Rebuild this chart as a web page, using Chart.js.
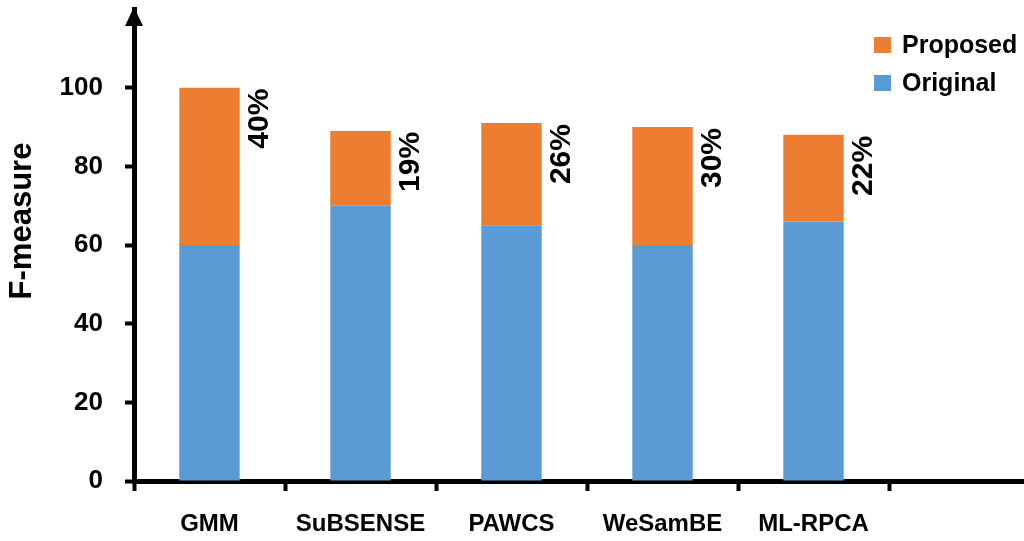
<!DOCTYPE html>
<html>
<head>
<meta charset="utf-8">
<script src="https://cdn.jsdelivr.net/npm/chart.js@4/dist/chart.umd.min.js"></script>
<style>
  html, body { margin: 0; padding: 0; background: #fff; overflow: hidden; }
  #wrap { width: 1024px; height: 541px; overflow: hidden; }
</style>
</head>
<body>
<!-- the horizontal axis runs past the right edge of the view, so the canvas is a bit wider -->
<div id="wrap"><canvas id="c" width="1040" height="541"></canvas></div>
<script>
// Categories (the trailing empty slot keeps room on the right of the axis)
const categories = ['GMM', 'SuBSENSE', 'PAWCS', 'WeSamBE', 'ML-RPCA', ''];
// F-measure of each method as published, and the gain added by the proposed step
const originalValues = [60, 70, 65, 60, 66];
const proposedValues = [40, 19, 26, 30, 22];
// Value axis ticks
const yTicks = [0, 20, 40, 60, 80, 100];
const yMax = 120;
const yTitle = 'F-measure';
// Gain labels written next to each bar
const gainLabels = proposedValues.map(v => v + '%');

const FONT = "'Liberation Sans', Arial, sans-serif";
Chart.defaults.font.family = FONT;
Chart.defaults.color = '#000';

// Rotated percentage labels beside the top segment of each bar
const gainLabelPlugin = {
  id: 'gainLabels',
  afterDatasetsDraw(chart) {
    const meta = chart.getDatasetMeta(1);
    const ctx = chart.ctx;
    ctx.save();
    ctx.fillStyle = '#000';
    ctx.font = 'bold 30px ' + FONT;
    meta.data.forEach((bar, i) => {
      if (gainLabels[i] === undefined) return;
      const cx = bar.x + bar.width / 2 + 20;
      ctx.save();
      ctx.translate(cx, bar.y + 1);
      ctx.rotate(-Math.PI / 2);
      ctx.textAlign = 'right';
      ctx.textBaseline = 'middle';
      ctx.fillText(gainLabels[i], 0, 0);
      ctx.restore();
    });
    ctx.restore();
  }
};

// Arrow head on top of the value axis, the axis title, and the legend
const decorPlugin = {
  id: 'decor',
  afterDraw(chart) {
    const ctx = chart.ctx;
    const area = chart.chartArea;
    const x = area.left;
    ctx.save();
    ctx.fillStyle = '#000';
    ctx.beginPath();
    ctx.moveTo(x, area.top - 2);
    ctx.lineTo(x + 9, area.top + 17);
    ctx.lineTo(x - 9, area.top + 17);
    ctx.closePath();
    ctx.fill();

    // value axis title, set a little above the middle of the axis
    ctx.save();
    ctx.font = 'bold 31px ' + FONT;
    ctx.textAlign = 'center';
    ctx.textBaseline = 'middle';
    ctx.translate(22, (area.top + area.bottom) / 2 - 24);
    ctx.rotate(-Math.PI / 2);
    ctx.fillText(yTitle, 0, 0);
    ctx.restore();

    // legend: top segment first
    const order = [1, 0];
    ctx.font = 'bold 25px ' + FONT;
    ctx.textAlign = 'left';
    ctx.textBaseline = 'middle';
    order.forEach((di, k) => {
      const ds = chart.data.datasets[di];
      const cy = 45 + k * 38;
      ctx.fillStyle = ds.backgroundColor;
      ctx.fillRect(874, cy - 8, 17, 16);
      ctx.fillStyle = '#000';
      ctx.fillText(ds.label, 902, cy + 1);
    });
    ctx.restore();
  }
};

new Chart(document.getElementById('c'), {
  type: 'bar',
  data: {
    labels: categories,
    datasets: [
      {
        label: 'Original',
        data: originalValues,
        backgroundColor: '#5B9BD5',
        borderWidth: 0,
        barPercentage: 0.4,
        categoryPercentage: 1
      },
      {
        label: 'Proposed',
        data: proposedValues,
        backgroundColor: '#ED7D31',
        borderWidth: 0,
        barPercentage: 0.4,
        categoryPercentage: 1
      }
    ]
  },
  options: {
    responsive: false,
    animation: false,
    devicePixelRatio: 1,
    layout: { padding: { left: 0, right: 0, top: 9, bottom: 0 } },
    plugins: {
      legend: { display: false },
      tooltip: { enabled: false }
    },
    scales: {
      x: {
        stacked: true,
        afterFit(scale) {
          scale.height = 60;
          scale.paddingLeft = 0;
          scale.paddingRight = 0;
        },
        grid: {
          display: true,
          drawOnChartArea: false,
          offset: true,
          tickLength: 10,
          tickWidth: 4,
          tickColor: '#000'
        },
        border: { display: true, color: '#000', width: 5 },
        ticks: {
          color: '#000',
          font: { size: 24, weight: 'bold' },
          padding: 19,
          maxRotation: 0,
          autoSkip: false
        }
      },
      y: {
        stacked: true,
        min: 0,
        max: yMax,
        afterBuildTicks(scale) {
          scale.ticks = yTicks.map(v => ({ value: v }));
        },
        afterFit(scale) {
          scale.width = 134;
          scale.paddingTop = 0;
          scale.paddingBottom = 0;
        },
        grid: {
          drawOnChartArea: false,
          tickLength: 9,
          tickWidth: 4,
          tickColor: '#000'
        },
        border: { display: true, color: '#000', width: 5 },
        ticks: {
          color: '#000',
          font: { size: 26, weight: 'bold' },
          padding: 22
        },
        title: { display: false }
      }
    }
  },
  plugins: [gainLabelPlugin, decorPlugin]
});
</script>
</body>
</html>
